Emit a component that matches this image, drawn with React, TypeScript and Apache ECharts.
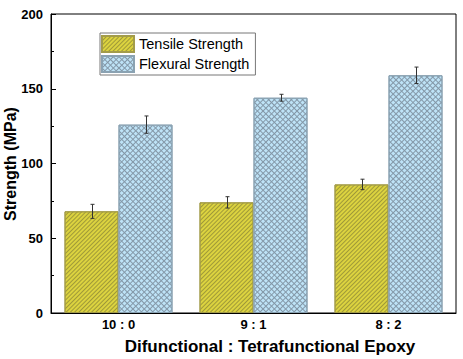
import React, { useEffect, useRef } from "react";
import * as echarts from "echarts";

const categories = ["10 : 0", "9 : 1", "8 : 2"];
const tensile = [68, 74, 86];
const tensileErr = [4.7, 3.8, 3.5];
const flexural = [126, 144, 159];
const flexuralErr = [5.8, 2.3, 5.5];
const yTicks = { min: 0, max: 200, interval: 50 };

const FONT = 'Arial, "Liberation Sans", sans-serif';

export default function App() {
  const ref = useRef<HTMLDivElement>(null);
  useEffect(() => {
    if (!ref.current) return;
    const chart = echarts.init(ref.current, undefined, { renderer: "svg" });

    const errSeries = (vals: number[], errs: number[], side: number, name: string) => ({
      type: "custom",
      name,
      z: 10,
      silent: true,
      data: vals.map((v, i) => [i, v, errs[i]]),
      renderItem: (params: any, api: any) => {
        const idx = api.value(0);
        const v = api.value(1);
        const e = api.value(2);
        const band = api.size([1, 0])[0];
        const off = side * band * 0.2;
        const top = api.coord([idx, v + e]);
        const bot = api.coord([idx, v - e]);
        const x = Math.round(top[0] + off) + 0.5;
        const cap = 2;
        const style = { stroke: "#333", lineWidth: 1 };
        return {
          type: "group",
          children: [
            { type: "line", shape: { x1: x, y1: top[1], x2: x, y2: bot[1] }, style },
            { type: "line", shape: { x1: x - cap, y1: top[1], x2: x + cap, y2: top[1] }, style },
            { type: "line", shape: { x1: x - cap, y1: bot[1], x2: x + cap, y2: bot[1] }, style },
          ],
        };
      },
    });

    const option: any = {
      animation: false,
      aria: { enabled: false },
      grid: {
        left: 51,
        right: 7,
        top: 14,
        bottom: 46,
        show: true,
        borderColor: "#000",
        borderWidth: 1,
        backgroundColor: "transparent",
      },
      legend: {
        left: 100,
        top: 33,
        orient: "vertical",
        padding: [2, 6, 2, 1],
        itemGap: 2,
        itemWidth: 32,
        itemHeight: 16,
        borderColor: "#777",
        borderWidth: 1,
        borderRadius: 0,
        icon: "rect",
        data: ["Tensile Strength", "Flexural Strength"],
        textStyle: { fontFamily: FONT, fontSize: 14.5, color: "#000" },
      },
      xAxis: {
        type: "category",
        data: categories,
        axisLine: { lineStyle: { color: "#000", width: 1 } },
        axisTick: { show: false },
        axisLabel: {
          fontFamily: FONT,
          fontWeight: "bold",
          fontSize: 13,
          color: "#000",
          margin: 5,
        },
      },
      yAxis: {
        type: "value",
        min: yTicks.min,
        max: yTicks.max,
        interval: yTicks.interval,
        axisLine: { show: true, lineStyle: { color: "#000", width: 1 } },
        axisTick: { show: true, inside: true, length: 5, lineStyle: { color: "#000" } },
        minorTick: { show: true, splitNumber: 2, length: 3, lineStyle: { color: "#000" } },
        splitLine: { show: false },
        axisLabel: {
          fontFamily: FONT,
          fontWeight: "bold",
          fontSize: 13,
          color: "#000",
          margin: 8,
        },
      },
      graphic: [
        {
          type: "text",
          x: 270,
          y: 346,
          style: {
            text: "Difunctional : Tetrafunctional Epoxy",
            font: `bold 17px ${FONT}`,
            fill: "#000",
            align: "center",
            verticalAlign: "middle",
          },
        },
        {
          type: "text",
          x: 10,
          y: 164,
          rotation: Math.PI / 2,
          style: {
            text: "Strength (MPa)",
            font: `bold 16px ${FONT}`,
            fill: "#000",
            align: "center",
            verticalAlign: "middle",
          },
        },
      ],
      series: [
        {
          name: "Tensile Strength",
          type: "bar",
          data: tensile,
          barGap: "0%",
          barCategoryGap: "20%",
          itemStyle: {
            color: "#dcd33f",
            borderColor: "#a39c4a",
            borderWidth: 1,
            decal: {
              symbol: "rect",
              symbolSize: 1,
              color: "#9f9938",
              dashArrayX: [1, 0],
              dashArrayY: [1, 2],
              rotation: -Math.PI / 4,
            },
          },
        },
        {
          name: "Flexural Strength",
          type: "bar",
          data: flexural,
          itemStyle: {
            color: "#bee3f7",
            borderColor: "#8aa2b2",
            borderWidth: 1,
            decal: {
              symbol: "path://M0 0H10V2.5H2.5V10H0Z",
              symbolSize: 1,
              symbolKeepAspect: false,
              color: "#8498a8",
              dashArrayX: [4, 0],
              dashArrayY: [4, 0],
              rotation: Math.PI / 4,
            },
          },
        },
        errSeries(tensile, tensileErr, -1, "errT"),
        errSeries(flexural, flexuralErr, 1, "errF"),
      ],
    };
    chart.setOption(option);
    return () => chart.dispose();
  }, []);

  return (
    <div
      ref={ref}
      style={{ position: "fixed", left: 0, top: 0, width: 463, height: 359, background: "#fff" }}
    />
  );
}
